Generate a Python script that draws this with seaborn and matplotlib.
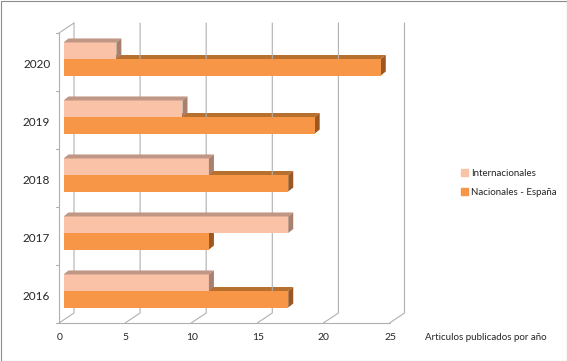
import pandas as pd
import matplotlib.pyplot as plt
import matplotlib.transforms as mtransforms
from matplotlib.patches import Polygon, Patch, Rectangle
import seaborn as sns

# data
years = ['2020', '2019', '2018', '2017', '2016']
internacionales = [4, 9, 11, 17, 11]
nacionales = [24, 19, 17, 11, 17]
series = ['Internacionales', 'Nacionales - España']
x_ticks = [0, 5, 10, 15, 20, 25]
axis_title = 'Articulos publicados por año'

df = pd.DataFrame({
    'year': years * 2,
    'serie': [series[0]] * len(years) + [series[1]] * len(years),
    'value': internacionales + nacionales,
})

c_int, c_int_top, c_int_side = '#FAC3A8', '#C09684', '#A97F6D'
c_nac, c_nac_top, c_nac_side = '#F79646', '#B8702F', '#9C5820'
grid_col = '#b0b0b0'

sns.set_style('white')
plt.rcParams['font.family'] = ['Lato', 'DejaVu Sans']

W, H = 567, 361
fig = plt.figure(figsize=(W / 100, H / 100), dpi=100)

# pixel overlays behind / in front of the bar axes
bax = fig.add_axes([0, 0, 1, 1], zorder=0)
ax = fig.add_axes([63.5 / W, 1 - 320 / H, 330.5 / W, 290 / H], zorder=1)
fax = fig.add_axes([0, 0, 1, 1], zorder=2)
for a in (bax, fax):
    a.set_xlim(0, W)
    a.set_ylim(H, 0)
    a.axis('off')
    a.patch.set_alpha(0)
ax.patch.set_alpha(0)

sns.barplot(data=df, y='year', x='value', hue='serie', order=years, hue_order=series,
            palette=[c_int, c_nac], width=0.57, orient='h', ax=ax, legend=False,
            saturation=1, linewidth=0)
ax.set_xlim(0, 25)
ax.set_ylim(4.5, -0.5)
ax.set_xlabel('')
ax.set_ylabel('')
sns.despine(ax=ax, left=True, bottom=True)


def to_px(x, y, dx=0.0, dy=0.0):
    X, Y = ax.transData.transform((x, y))
    return X + dx, H - Y + dy


FRONT = (-4.5, 3.0)
BACK = (10.5, -7.0)
DEPTH = (5.0, -4.0)

# back wall grid + floor diagonals
for v in x_ticks:
    p1 = to_px(v, -0.5, *BACK)
    p2 = to_px(v, 4.5, *BACK)
    p3 = to_px(v, 4.5, *FRONT)
    bax.plot([p1[0], p2[0], p3[0]], [p1[1], p2[1], p3[1]], color=grid_col, lw=0.8)

# left wall / front edges
a0, a1 = to_px(0, -0.5, *FRONT), to_px(0, 4.5, *FRONT)
b0 = to_px(0, -0.5, *BACK)
bax.plot([a0[0], a1[0]], [a0[1], a1[1]], color=grid_col, lw=0.8)
bax.plot([a0[0], b0[0]], [a0[1], b0[1]], color=grid_col, lw=0.8)
f1 = to_px(25, 4.5, *FRONT)
bax.plot([a1[0], f1[0]], [a1[1], f1[1]], color=grid_col, lw=0.8)
for k in range(len(years) + 1):
    t = to_px(0, k - 0.5, *FRONT)
    bax.plot([t[0] - 3, t[0]], [t[1], t[1]], color=grid_col, lw=0.8)


def faces(target, rect, top_col, side_col):
    x0, y0, w, h = rect.get_x(), rect.get_y(), rect.get_width(), rect.get_height()
    x1 = x0 + w
    top = [to_px(x0, y0), to_px(x1, y0), to_px(x1, y0, *DEPTH), to_px(x0, y0, *DEPTH)]
    side = [to_px(x1, y0), to_px(x1, y0 + h), to_px(x1, y0 + h, *DEPTH), to_px(x1, y0, *DEPTH)]
    target.add_patch(Polygon(top, closed=True, fc=top_col, ec='none'))
    target.add_patch(Polygon(side, closed=True, fc=side_col, ec='none'))


for rect in ax.containers[1]:
    faces(bax, rect, c_nac_top, c_nac_side)
for rect in ax.containers[0]:
    faces(fax, rect, c_int_top, c_int_side)

# tick labels
ax.set_yticks(range(len(years)))
ax.set_yticklabels(years, fontsize=8.5)
ax.tick_params(axis='y', length=0, pad=9.5)
for lab in ax.get_yticklabels():
    lab.set_transform(lab.get_transform() + mtransforms.ScaledTranslation(0, -0.05, fig.dpi_scale_trans))
ax.set_xticks(x_ticks)
ax.set_xticklabels([str(v) for v in x_ticks], fontsize=7.5)
ax.tick_params(axis='x', length=0, pad=9)
for lab in ax.get_xticklabels():
    lab.set_transform(lab.get_transform() + mtransforms.ScaledTranslation(-0.04, 0, fig.dpi_scale_trans))

fax.text(425, 338, axis_title, fontsize=7, ha='left', va='center')

handles = [Patch(color=c_int, label=series[0]), Patch(color=c_nac, label=series[1])]
fax.legend(handles=handles, loc='upper left', bbox_to_anchor=(452 / W, 1 - 160 / H),
           frameon=False, fontsize=7, handlelength=0.7, handleheight=0.7,
           handletextpad=0.4, labelspacing=1.05)

fax.add_patch(Rectangle((0.5, 0.5), W - 1, H - 1, fill=False, ec='#8c8c8c', lw=0.8))

fig.savefig('out.png', dpi=100)
